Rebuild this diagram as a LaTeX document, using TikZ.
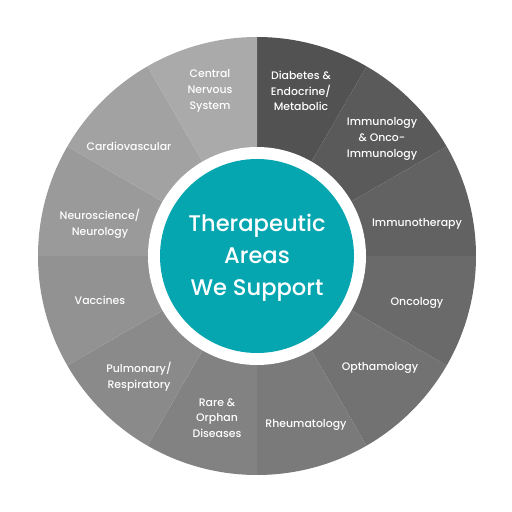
\documentclass[tikz,border=0pt]{standalone}
\usepackage{fontspec}
\IfFontExistsTF{Poppins Medium}{\setmainfont{Poppins Medium}}{\setmainfont{Poppins}[FakeBold=0.3]}
\definecolor{teal}{RGB}{5,166,176}
\tikzset{
  lbl/.style={text=white, font=\fontsize{10.9}{15.7}\selectfont, align=center, inner sep=0pt},
  ctr/.style={text=white, font=\fontsize{22.6}{32}\selectfont, align=center, inner sep=0pt},
}
\begin{document}
\begin{tikzpicture}[x=1pt,y=1pt]
\useasboundingbox (0,0) rectangle (512,512);
\coordinate (C) at (257,256);
\foreach \i in {0,...,11}{
  \pgfmathtruncatemacro\g{82+8*\i}
  \definecolor{seg}{RGB}{\g,\g,\g}
  \pgfmathsetmacro\a{90-30*\i}
  \pgfmathsetmacro\b{60-30*\i}
  \fill[seg] (C) -- +(\a:219pt) arc[start angle=\a, end angle=\b, radius=219pt] -- cycle;
}
\fill[white] (C) circle[radius=109pt];
\fill[teal] (C) circle[radius=97pt];
\node[ctr] (center) at (257,254) {Therapeutic\\Areas\\We Support};
\node[lbl] (cns) at (210,421) {Central\\Nervous\\System};
\node[lbl] (diab) at (301,421) {Diabetes \&\\Endocrine/\\Metabolic};
\node[lbl] (immu) at (382,373) {Immunology\\\& Onco-\\Immunology};
\node[lbl] (ther) at (417,288) {Immunotherapy};
\node[lbl] (onco) at (417,209) {Oncology};
\node[lbl] (opth) at (380,144) {Opthamology};
\node[lbl] (rheu) at (306,87) {Rheumatology};
\node[lbl] (rare) at (217,94) {Rare \&\\Orphan\\Diseases};
\node[lbl] (pulm) at (139,135) {Pulmonary/\\Respiratory};
\node[lbl] (vacc) at (100,212) {Vaccines};
\node[lbl] (neur) at (100,288) {Neuroscience/\\Neurology};
\node[lbl] (card) at (129,366) {Cardiovascular};
\end{tikzpicture}
\end{document}
